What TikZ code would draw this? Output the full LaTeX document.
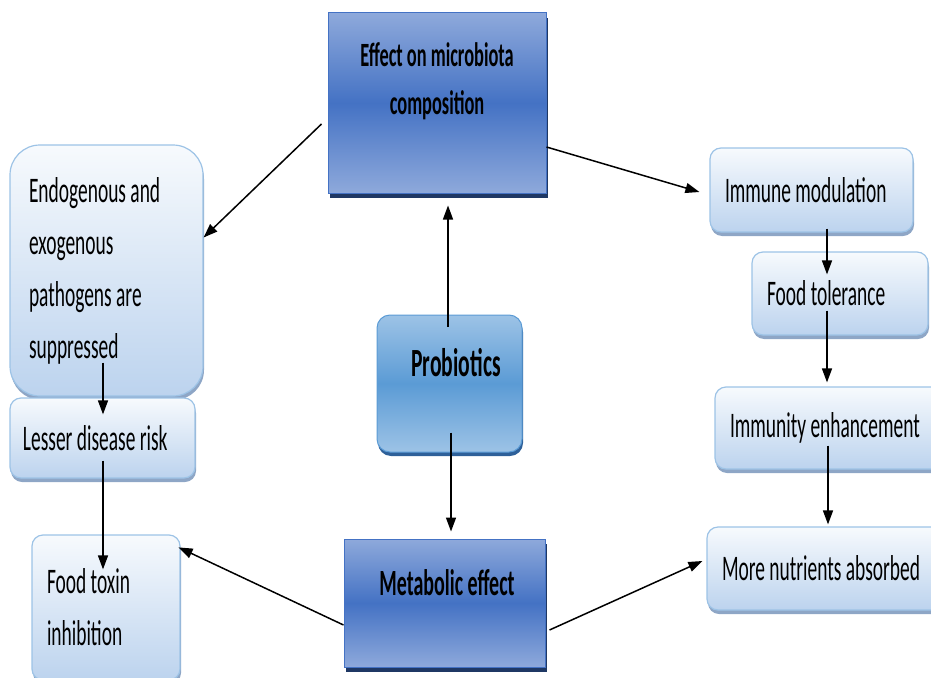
\documentclass[tikz,border=0pt]{standalone}
\usepackage{fontspec}
\setmainfont[FakeStretch=0.54]{Carlito}
\usetikzlibrary{arrows.meta,shadows,calc}
\definecolor{dkedge}{HTML}{4472C4}
\definecolor{dklight}{HTML}{8EA9DB}
\definecolor{dkmid}{HTML}{4472C4}
\definecolor{dkshadow}{HTML}{1F3864}
\definecolor{pbedge}{HTML}{5B9BD5}
\definecolor{pblight}{HTML}{9DC3E6}
\definecolor{pbmid}{HTML}{5B9BD5}
\definecolor{pbshadow}{HTML}{2E6099}
\definecolor{ltedge}{HTML}{9DC3E6}
\definecolor{lttop}{HTML}{F7FAFD}
\definecolor{ltbot}{HTML}{BCD3EE}
\definecolor{ltshadow}{HTML}{8EA6C6}
\tikzset{
  darkbox/.style={rectangle, draw=dkedge, line width=1pt, top color=dklight,
    bottom color=dklight, middle color=dkmid,
    drop shadow={shadow xshift=2pt, shadow yshift=-5pt, fill=dkshadow, opacity=1}},
  probbox/.style={rectangle, rounded corners=13pt, draw=pbedge, line width=1pt,
    top color=pblight, bottom color=pblight, middle color=pbmid,
    drop shadow={shadow xshift=1pt, shadow yshift=-4pt, fill=pbshadow, opacity=1}},
  ltbox/.style={rectangle, rounded corners=11pt, draw=ltedge, line width=1.2pt,
    top color=lttop, bottom color=ltbot, inner xsep=15pt, inner ysep=0pt, align=flush left,
    font=\fontsize{36pt}{52pt}\selectfont,
    drop shadow={shadow xshift=1pt, shadow yshift=-4pt, fill=ltshadow, opacity=1}},
  headtxt/.style={inner sep=0pt, align=center, font=\bfseries\fontsize{37pt}{48pt}\selectfont},
  arr/.style={-{Triangle[length=14pt,width=10pt]}, line width=1.5pt}
}
\begin{document}
\begin{tikzpicture}[x=1pt,y=-1pt]
\useasboundingbox (0,0) rectangle (931,677);
\node[darkbox, minimum width=218pt, minimum height=180pt] (effect) at (437,103) {};
\node[headtxt, font=\bfseries\fontsize{34pt}{48pt}\selectfont] (effecttxt) at (437,81) {Effect on microbiota\\composition};
\node[probbox, minimum width=145pt, minimum height=137pt] (probio) at (449.5,383.5) {};
\node[headtxt, font=\bfseries\fontsize{40pt}{48pt}\selectfont] (probiotxt) at (456,363) {Probiotics};
\node[darkbox, minimum width=201pt, minimum height=128pt] (metab) at (444.5,603) {};
\node[headtxt] (metabtxt) at (447,583) {Metabolic effect};

\node[ltbox, text width=173pt, minimum height=84pt] (immune) at (811.5,190) {Immune modulation};
\node[ltbox, text width=146pt, minimum height=83pt] (tol) at (840,293.5) {Food tolerance};
\node[ltbox, text width=215pt, minimum height=82pt] (immenh) at (837.5,428) {Immunity enhancement};
\node[ltbox, text width=223pt, minimum height=83pt] (nutr) at (833.5,568.5) {More nutrients absorbed};
\node[ltbox, rounded corners=30pt, inner xsep=19pt, text width=155pt, minimum height=251pt] (endo) at (106.5,270.5)
  {Endogenous and\\exogenous\\pathogens are\\suppressed};
\node[ltbox, inner xsep=13pt, text width=159pt, minimum height=80pt] (lesser) at (102.5,438) {Lesser disease risk};
\node[ltbox, text width=118pt, minimum height=145pt] (toxin) at (106,607.5) {Food toxin\\inhibition};

\draw[arr] ($(effect.west)+(-6,21)$) -- ($(endo.east)+(0,-33)$);
\draw[arr] ($(effect.east)+(0,44)$) -- ($(immune.west)+(-10,2)$);
\draw[arr] ($(probio.north)+(-1.5,12)$) -- ($(effect.south)+(11,12)$);
\draw[arr] ($(probio.south)+(1.5,-20)$) -- ($(metab.north)+(6.5,-7)$);
\draw[arr] ($(metab.west)+(0,22)$) -- ($(toxin.north east)+(-2,13)$);
\draw[arr] ($(metab.east)+(4,27)$) -- ($(nutr.west)+(-4,-7.5)$);
\draw[arr] ($(endo.south)+(-3.5,-34)$) -- ($(lesser.north)+(0.5,17)$);
\draw[arr] ($(lesser.south)+(0.5,-18)$) -- ($(toxin.north)+(-3,35)$);
\draw[arr] ($(immune.south)+(15.5,-4)$) -- ($(tol.north)+(-13,23)$);
\draw[arr] ($(tol.south)+(-13,-25)$) -- ($(immenh.north)+(-10.5,-4)$);
\draw[arr] ($(immenh.south)+(-9.5,-24)$) -- ($(nutr.north)+(-5.5,-2)$);
\end{tikzpicture}
\end{document}
